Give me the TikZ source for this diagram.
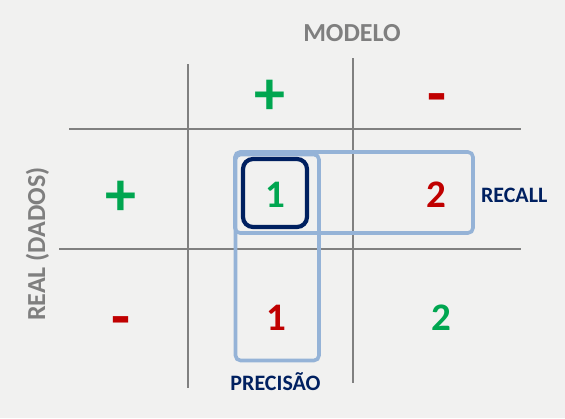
\documentclass[tikz,border=0pt]{standalone}
\usepackage{fontspec}
\setmainfont{Carlito}
\definecolor{paper}{RGB}{241,241,240}
\definecolor{gridgray}{RGB}{128,128,128}
\definecolor{txtgray}{RGB}{127,127,127}
\definecolor{posgreen}{RGB}{0,166,80}
\definecolor{negred}{RGB}{192,0,0}
\definecolor{navy}{RGB}{0,32,96}
\definecolor{lightblue}{RGB}{149,179,215}
\tikzset{
  gridline/.style={draw=gridgray,line width=2.6pt},
  hlbox/.style={draw=lightblue,line width=3.6pt,rounded corners=5pt},
  tpbox/.style={draw=navy,line width=4.2pt,rounded corners=10pt},
  axislabel/.style={inner sep=0pt,text=txtgray,font=\fontsize{26}{30}\selectfont\bfseries},
  sign/.style={inner sep=0pt,anchor=base,font=\fontsize{62}{70}\selectfont\bfseries},
  digit/.style={inner sep=0pt,anchor=base,font=\fontsize{39}{46}\selectfont\bfseries},
  metric/.style={inner sep=0pt,anchor=base,text=navy,font=\fontsize{22}{26}\selectfont\bfseries},
}
\begin{document}
\begin{tikzpicture}[x=1pt,y=-1pt]
\fill[paper] (0,0) rectangle (565,418);
\useasboundingbox (0,0) rectangle (565,418);
% grid
\coordinate (v1t) at (188,64);
\coordinate (v1b) at (188,388);
\coordinate (v2t) at (353,58);
\coordinate (v2b) at (353,383);
\coordinate (h1l) at (69,129);
\coordinate (h1r) at (521,129);
\coordinate (h2l) at (59,249);
\coordinate (h2r) at (521,249);
\draw[gridline] (v1t) -- (v1b);
\draw[gridline] (v2t) -- (v2b);
\draw[gridline] (h1l) -- (h1r);
\draw[gridline] (h2l) -- (h2r);
% highlight boxes
\draw[hlbox] (235,152) rectangle (473,233);
\draw[hlbox] (235.5,154.5) rectangle (319,360.5);
\draw[tpbox] (243,159) rectangle (307,227);
% axis labels
\node[axislabel,anchor=base] (modelo) at (352,41.7) {MODELO};
\node[axislabel,anchor=base,rotate=90] (real) at (45,244) {REAL (DADOS)};
% signs
\node[sign,text=posgreen] (ptop) at (270,114) {+};
\node[sign,text=negred] (mtop) at (437,114) {-};
\node[sign,text=posgreen] (pleft) at (121,215) {+};
\node[sign,text=negred] (mleft) at (121,337) {-};
% cells
\node[digit,text=posgreen] (tp) at (275.5,207) {1};
\node[digit,text=negred] (fn) at (436.5,207) {2};
\node[digit,text=negred] (fp) at (276,330) {1};
\node[digit,text=posgreen] (tn) at (441.7,330) {2};
% metric labels
\node[metric] (recall) at (514.2,202) {RECALL};
\node[metric] (prec) at (275.5,390.7) {PRECISÃO};
\end{tikzpicture}
\end{document}
